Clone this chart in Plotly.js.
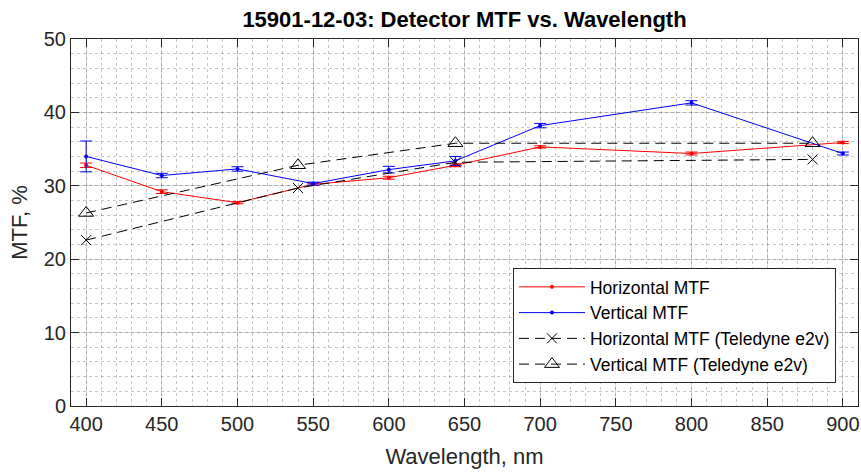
<!DOCTYPE html>
<html>
<head>
<meta charset="utf-8">
<script src="https://cdn.plot.ly/plotly-3.0.1.min.js"></script>
<style>html,body{margin:0;padding:0;background:#fff}#chart{width:861px;height:474px}</style>
</head>
<body>
<div id="chart"></div>
<script>
// Measured wavelengths (nm)
const wavelengths = [400, 450, 500, 550, 600, 644, 700, 800, 900];
// Horizontal MTF (%) and its error
const horizMTF = [32.8, 29.2, 27.7, 30.2, 31.1, 32.8, 35.3, 34.4, 35.9];
const horizErr = [0.3, 0.25, 0.15, 0.15, 0.2, 0.2, 0.15, 0.2, 0.15];
// Vertical MTF (%) and its error
const vertMTF = [34.0, 31.4, 32.3, 30.3, 32.2, 33.4, 38.2, 41.3, 34.4];
const vertErr = [2.1, 0.3, 0.3, 0.2, 0.45, 0.6, 0.3, 0.3, 0.2];
// Teledyne e2v reference values
const e2vWavelengths = [400, 540, 644, 880];
const e2vHoriz = [22.6, 29.7, 33.2, 33.6];
const e2vVert = [26.3, 32.8, 35.8, 35.8];
const xTicks = [400, 450, 500, 550, 600, 650, 700, 750, 800, 850, 900];
const yTicks = [0, 10, 20, 30, 40, 50];

const FONT = "'Liberation Sans', Arial, Helvetica, sans-serif";
const TXT = '#262626';

const traces = [
  {
    x: wavelengths, y: horizMTF, name: 'Horizontal MTF', type: 'scatter', mode: 'lines+markers',
    line: {color: '#ff0000', width: 1}, marker: {color: '#ff0000', size: 4},
    error_y: {type: 'data', array: horizErr, visible: true, color: '#ff0000', thickness: 1, width: 6}
  },
  {
    x: wavelengths, y: vertMTF, name: 'Vertical MTF', type: 'scatter', mode: 'lines+markers',
    line: {color: '#0000ff', width: 1}, marker: {color: '#0000ff', size: 4},
    error_y: {type: 'data', array: vertErr, visible: true, color: '#0000ff', thickness: 1, width: 6}
  },
  {
    x: e2vWavelengths, y: e2vHoriz, name: 'Horizontal MTF (Teledyne e2v)', type: 'scatter', mode: 'lines+markers',
    line: {color: '#000000', width: 1, dash: '10px,6px'},
    marker: {symbol: 'x-thin-open', size: 10, color: '#000000', line: {color: '#000000', width: 1}}
  },
  {
    x: e2vWavelengths, y: e2vVert, name: 'Vertical MTF (Teledyne e2v)', type: 'scatter', mode: 'lines+markers',
    line: {color: '#000000', width: 1, dash: '10px,6px'},
    marker: {symbol: 'triangle-up-open', size: 13, color: '#000000', line: {color: '#000000', width: 1}}
  }
];

const axisCommon = {
  showline: true, linecolor: TXT, linewidth: 1, mirror: 'ticks',
  ticks: 'inside', ticklen: 8, tickcolor: TXT, tickwidth: 1,
  showgrid: true, gridcolor: 'rgba(0,0,0,0.14)', gridwidth: 1,
  zeroline: false,
  tickfont: {family: FONT, size: 20, color: TXT}
};

const layout = {
  width: 861, height: 474,
  paper_bgcolor: '#ffffff', plot_bgcolor: '#ffffff',
  margin: {l: 71, r: 3, t: 39, b: 68},
  showlegend: true,
  title: {
    text: '15901-12-03: Detector MTF vs. Wavelength',
    font: {family: FONT, size: 22, color: '#000000', weight: 'bold'},
    x: 0.5, xref: 'paper', xanchor: 'center', y: 1 - 19 / 474, yref: 'container', yanchor: 'middle'
  },
  xaxis: Object.assign({}, axisCommon, {
    range: [390, 910], tickvals: xTicks, ticktext: xTicks.map(String),
    minor: {dtick: 10, tick0: 400, showgrid: true, gridcolor: 'rgba(0,0,0,0.22)', griddash: 'dot', gridwidth: 1, ticks: ''},
    title: {text: 'Wavelength, nm', font: {family: FONT, size: 22, color: TXT}, standoff: 14}
  }),
  yaxis: Object.assign({}, axisCommon, {
    range: [0, 50], tickvals: yTicks, ticktext: yTicks.map(String),
    minor: {dtick: 2, tick0: 0, showgrid: true, gridcolor: 'rgba(0,0,0,0.22)', griddash: 'dot', gridwidth: 1, ticks: ''},
    title: {text: 'MTF, %', font: {family: FONT, size: 22, color: TXT}, standoff: 10}
  }),
  legend: {
    x: 0.5616, xanchor: 'left', y: 0.0627, yanchor: 'bottom',
    bgcolor: '#ffffff', bordercolor: TXT, borderwidth: 1,
    font: {family: FONT, size: 17.5, color: '#000000'},
    itemwidth: 66, tracegroupgap: 0
  }
};

Plotly.newPlot('chart', traces, layout, {displayModeBar: false, staticPlot: true});
</script>
</body>
</html>
